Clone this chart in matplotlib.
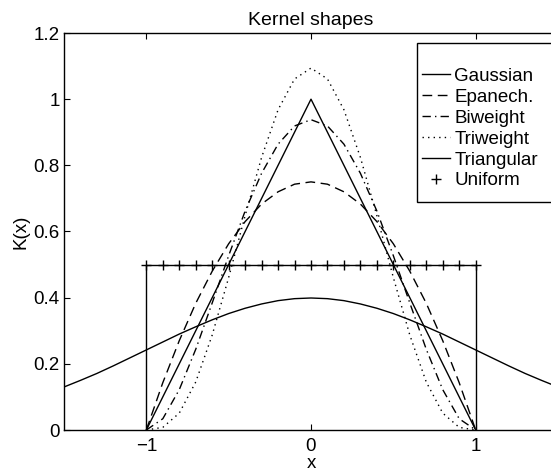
import numpy as np
import matplotlib
matplotlib.use("Agg")
from matplotlib import pyplot as plt
from matplotlib.patches import Rectangle

plt.rcParams['font.family'] = ['Liberation Sans', 'DejaVu Sans']
plt.rcParams['font.size'] = 13.5

# kernel values, x >= 0 half (curves are symmetric)
x_half = [0.0, 0.1, 0.2, 0.3, 0.4, 0.5, 0.6, 0.7, 0.8, 0.9, 1.0,
          1.1, 1.2, 1.3, 1.4, 1.5]
gauss_half = [0.399, 0.397, 0.391, 0.381, 0.368, 0.352, 0.333, 0.312,
              0.290, 0.266, 0.242, 0.218, 0.194, 0.171, 0.150, 0.130]
epan_half = [0.750, 0.743, 0.720, 0.683, 0.630, 0.563, 0.480, 0.383,
             0.270, 0.143, 0.0]
biw_half = [0.938, 0.919, 0.864, 0.776, 0.662, 0.527, 0.384, 0.244,
            0.122, 0.034, 0.0]
triw_half = [1.094, 1.061, 0.968, 0.824, 0.648, 0.461, 0.287, 0.145,
             0.051, 0.008, 0.0]
tri_x = [-1, 0, 1]
tri_y = [0, 1, 0]
unif_x = [-1.0, -0.9, -0.8, -0.7, -0.6, -0.5, -0.4, -0.3, -0.2, -0.1, 0.0,
          0.1, 0.2, 0.3, 0.4, 0.5, 0.6, 0.7, 0.8, 0.9, 1.0]
unif_level = 0.5


def mirror(xs, ys):
    xs = np.array(xs)
    ys = np.array(ys)
    return np.concatenate([-xs[:0:-1], xs]), np.concatenate([ys[:0:-1], ys])


fig = plt.figure(figsize=(5.51, 4.73), dpi=100)
ax = fig.add_axes([64 / 551, 43 / 473, 494 / 551, 397 / 473])

lw = 1.0
gx, gy = mirror(x_half, gauss_half)
ax.plot(gx, gy, 'k-', lw=lw, label='Gaussian')
ex, ey = mirror(x_half[:11], epan_half)
ax.plot(ex, ey, 'k--', lw=lw, dashes=(7, 4), label='Epanech.')
bx, by = mirror(x_half[:11], biw_half)
ax.plot(bx, by, 'k-.', lw=lw, dashes=(6, 3, 1, 3), label='Biweight')
tx, ty = mirror(x_half[:11], triw_half)
ax.plot(tx, ty, 'k', lw=lw, dashes=(1, 3), label='Triweight')
ax.plot(tri_x, tri_y, 'k-', lw=lw, label='Triangular')
ax.plot(unif_x, [unif_level] * len(unif_x), 'k+', ms=7, mew=1.0, label='Uniform')
# box outline of the uniform kernel
ax.plot([unif_x[0], unif_x[0], unif_x[-1], unif_x[-1]],
        [0, unif_level, unif_level, 0], 'k-', lw=lw)

ax.set_xlim(-1.5, 1.5)
ax.set_ylim(0, 1.2)
ax.set_xticks([-1, 0, 1])
ax.set_xticklabels(['\u22121', '0', '1'])
ax.set_yticks([0, 0.2, 0.4, 0.6, 0.8, 1.0, 1.2])
ax.set_yticklabels(['0', '0.2', '0.4', '0.6', '0.8', '1', '1.2'])
ax.tick_params(direction='in', top=True, right=True, length=4, width=0.8, pad=3)
ax.tick_params(axis='x', pad=6)
for s in ax.spines.values():
    s.set_linewidth(1.0)

ax.set_title('Kernel shapes', fontsize=14, pad=6)
ax.set_xlabel('x', labelpad=0)
ax.set_ylabel('K(x)', labelpad=3)

# legend box drawn as its own rectangle (box is taller than the entries)
ax.add_patch(Rectangle((0.7146, 0.574), 0.285, 0.401, transform=ax.transAxes,
                       fill=True, facecolor='white', edgecolor='black',
                       lw=1.0, zorder=4))
leg = ax.legend(loc='upper left', bbox_to_anchor=(0.724, 0.912),
                frameon=False, handlelength=1.5, handletextpad=0.25,
                labelspacing=0.2, borderpad=0, borderaxespad=0)
leg.set_zorder(5)

plt.savefig('out.png', dpi=100)
